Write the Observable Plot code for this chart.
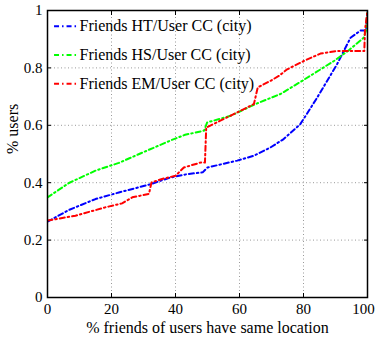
<!DOCTYPE html>
<html>
<head>
<meta charset="utf-8">
<script src="https://cdn.jsdelivr.net/npm/d3@7"></script>
<script src="https://cdn.jsdelivr.net/npm/@observablehq/plot@0.6"></script>
<style>
  html, body { margin: 0; padding: 0; background: #fff; }
  svg { display: block; }
</style>
</head>
<body>
<div id="chart"></div>
<script>
const seriesNames = ["Friends HT/User CC (city)", "Friends HS/User CC (city)", "Friends EM/User CC (city)"];
const seriesColors = ["#0000ff", "#00ff00", "#ff0000"];

const htX = [0, 6.7, 15, 22.3, 31.7, 38.4, 43.7, 48.5, 50, 59.3, 64.5, 69.7, 73.8, 79, 84.3, 90.5, 94.7, 97.8, 99.5, 100];
const htY = [0.264, 0.305, 0.343, 0.366, 0.393, 0.418, 0.43, 0.436, 0.453, 0.477, 0.494, 0.523, 0.552, 0.604, 0.697, 0.813, 0.905, 0.93, 0.93, 1];

const hsX = [0, 6.7, 15, 22.3, 30.3, 39.5, 43, 48.9, 49.9, 57.2, 65, 72.8, 79.6, 89.5, 94, 98.8, 99.5, 100];
const hsY = [0.349, 0.399, 0.442, 0.469, 0.508, 0.552, 0.567, 0.581, 0.61, 0.633, 0.674, 0.709, 0.755, 0.824, 0.86, 0.905, 0.93, 1];

const emX = [0, 8.75, 18, 23.3, 26.5, 31.7, 32.5, 35.8, 40, 42.6, 47.8, 49.2, 49.6, 54, 59.3, 64.5, 65.7, 69.7, 72.3, 74.9, 80.1, 85.3, 90.5, 99, 99.2, 100];
const emY = [0.268, 0.285, 0.314, 0.328, 0.349, 0.361, 0.401, 0.413, 0.424, 0.453, 0.47, 0.47, 0.592, 0.616, 0.645, 0.674, 0.732, 0.755, 0.772, 0.795, 0.824, 0.85, 0.859, 0.859, 0.93, 1];

const xTicks = [0, 20, 40, 60, 80, 100];
const yTicks = [0, 0.2, 0.4, 0.6, 0.8, 1];

const rows = [];
[[htX, htY], [hsX, hsY], [emX, emY]].forEach(([xs, ys], i) => {
  xs.forEach((x, j) => rows.push({series: seriesNames[i], x, y: ys[j]}));
});

const dash = "5,3,1.5,3";
const font = "'Liberation Serif', 'Times New Roman', serif";
const lastX = xTicks[xTicks.length - 1];

const plot = Plot.plot({
  width: 377,
  height: 338,
  marginLeft: 47,
  marginRight: 10,
  marginTop: 10,
  marginBottom: 41,
  style: {fontFamily: font, fontSize: "16px", color: "#000", background: "#fff"},
  x: {domain: [0, 100]},
  y: {domain: [0, 1]},
  color: {domain: seriesNames, range: seriesColors},
  marks: [
    Plot.gridX(xTicks, {stroke: "#999", strokeOpacity: 1, strokeDasharray: "1,2.5"}),
    Plot.gridY(yTicks, {stroke: "#999", strokeOpacity: 1, strokeDasharray: "1,2.5"}),
    Plot.line(rows, {x: "x", y: "y", z: "series", stroke: "series", strokeWidth: 2, strokeDasharray: dash, clip: true}),
    Plot.axisX(xTicks, {anchor: "bottom", tickSize: -4, tickPadding: 10, tickFormat: d => d === lastX ? "" : String(d), fontSize: 15, fontFamily: font, label: null}),
    Plot.axisX([lastX], {anchor: "bottom", tickSize: 0, tickPadding: 6, dx: -4, tickFormat: d => String(d), fontSize: 15, fontFamily: font, label: null}),
    Plot.axisX(xTicks, {anchor: "top", tickSize: -4, tickFormat: () => "", label: null}),
    Plot.axisY(yTicks, {anchor: "left", tickSize: -4, tickPadding: 9, tickFormat: d => String(d), fontSize: 15, fontFamily: font, label: null}),
    Plot.axisY(yTicks, {anchor: "right", tickSize: -4, tickFormat: () => "", label: null}),
    Plot.frame({stroke: "#000", strokeWidth: 1.5}),
    Plot.text(["% friends of users have same location"], {frameAnchor: "bottom", dy: 35, fontSize: 16, fontFamily: font, lineAnchor: "bottom"}),
    Plot.text(["% users"], {frameAnchor: "left", dx: -35, rotate: -90, fontSize: 16, fontFamily: font}),
    // legend
    Plot.ruleY(seriesNames, {
      y: (d, i) => 1 - 0.1 * i - 0.055,
      x1: 2.2, x2: 9.3,
      stroke: d => d, strokeWidth: 2, strokeDasharray: dash
    }),
    Plot.text(seriesNames, {
      y: (d, i) => 1 - 0.1 * i - 0.055,
      x: 10,
      text: d => d, textAnchor: "start", fontSize: 16, fontFamily: font
    })
  ]
});
document.getElementById("chart").appendChild(plot);
</script>
</body>
</html>
